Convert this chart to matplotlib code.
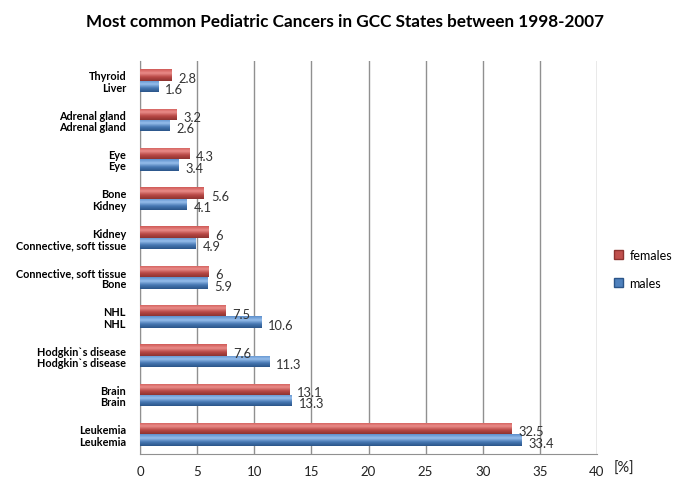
import numpy as np
import matplotlib
matplotlib.use("Agg")
import matplotlib.pyplot as plt
from matplotlib.colors import LinearSegmentedColormap
from matplotlib.patches import Patch

plt.rcParams['font.family'] = ['Lato', 'DejaVu Sans']

# data, bottom group first
female_labels = ["Leukemia", "Brain", "Hodgkin`s disease", "NHL", "Connective, soft tissue",
                 "Kidney", "Bone", "Eye", "Adrenal gland", "Thyroid"]
female_vals = [32.5, 13.1, 7.6, 7.5, 6, 6, 5.6, 4.3, 3.2, 2.8]
male_labels = ["Leukemia", "Brain", "Hodgkin`s disease", "NHL", "Bone",
               "Connective, soft tissue", "Kidney", "Eye", "Adrenal gland", "Liver"]
male_vals = [33.4, 13.3, 11.3, 10.6, 5.9, 4.9, 4.1, 3.4, 2.6, 1.6]
x_ticks = [0, 5, 10, 15, 20, 25, 30, 35, 40]

red = "#C0504D"
blue = "#4F81BD"
red_grad = LinearSegmentedColormap.from_list("r", ["#8E3330", "#B84845", "#E98B88", "#D05A57"])
blue_grad = LinearSegmentedColormap.from_list("b", ["#2B5589", "#4677B2", "#95BDEB", "#5C8FCC"])

fig = plt.figure(figsize=(6.85, 5.02), dpi=100)
ax = fig.add_axes([140 / 685, 1 - 455 / 502, 457 / 685, 393 / 502])

y = np.arange(len(female_vals))
h = 0.29
rbars = ax.barh(y + h / 2, female_vals, height=h, color=red)
bbars = ax.barh(y - h / 2, male_vals, height=h, color=blue)

# cylinder-like shading
grad = np.linspace(0, 1, 64).reshape(-1, 1)
for bars, cm in ((rbars, red_grad), (bbars, blue_grad)):
    for b in bars:
        x0, y0, w, hh = b.get_x(), b.get_y(), b.get_width(), b.get_height()
        im = ax.imshow(grad, cmap=cm, aspect='auto', origin='lower',
                       extent=[x0, x0 + w, y0, y0 + hh], zorder=3)
        im.set_clip_path(b)

for v, yy in zip(female_vals, y + h / 2):
    ax.text(v + 0.6, yy - 0.07, f"{v:g}", fontsize=9.3, color="#333333", va='center', zorder=4)
for v, yy in zip(male_vals, y - h / 2):
    ax.text(v + 0.6, yy - 0.07, f"{v:g}", fontsize=9.3, color="#333333", va='center', zorder=4)

ax.set_xlim(0, 40)
ax.set_ylim(-0.5, len(y) - 0.5)
ax.set_xticks(x_ticks)
ax.tick_params(axis='x', length=0, pad=8, labelsize=9.5, labelcolor="#222222")
ax.set_yticks(np.concatenate([y + h / 2, y - h / 2]))
ax.set_yticklabels(female_labels + male_labels, fontsize=7.8, fontweight='bold')
ax.tick_params(axis='y', length=0, pad=10)
ax.grid(axis='x', color="#909090", linewidth=1)
ax.set_axisbelow(True)
for s in ("top", "right"):
    ax.spines[s].set_visible(False)
for s in ("left", "bottom"):
    ax.spines[s].set_color("#909090")

fig.text(614 / 685, 1 - 469 / 502, "[%]", fontsize=10.5, color="#222222", va='center')
fig.text(345 / 685, 1 - 22 / 502, "Most common Pediatric Cancers in GCC States between 1998-2007",
         fontsize=12.3, fontweight='bold', ha='center', va='center')

handles = [Patch(facecolor=red, edgecolor="#8E3330"), Patch(facecolor=blue, edgecolor="#2B5589")]
fig.legend(handles, ["females", "males"], loc='center left', bbox_to_anchor=(603 / 685, 1 - 270 / 502),
           frameon=False, fontsize=9, handlelength=0.7, handleheight=0.7, labelspacing=1.3,
           handletextpad=0.5)

fig.savefig("out.png", dpi=100)
